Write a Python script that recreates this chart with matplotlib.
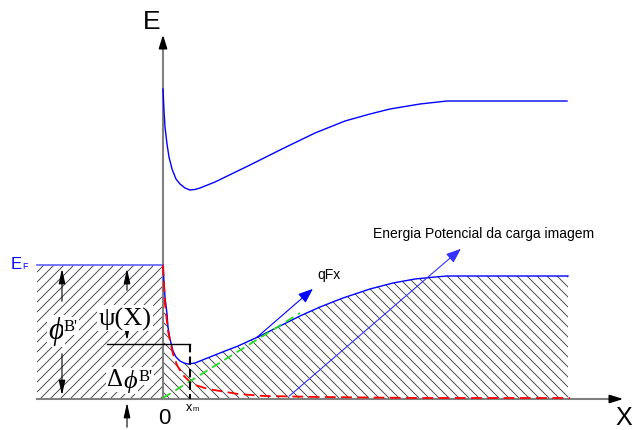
import numpy as np
import matplotlib
matplotlib.use('Agg')
import matplotlib.pyplot as plt
from matplotlib.patches import Polygon
from matplotlib.collections import LineCollection

# Curves (pixel space of the 633x431 sketch)
upper_x = [163, 164, 165, 167, 169, 172, 176, 180, 185, 190, 195, 200, 215, 250, 282, 315, 345, 370, 390, 420, 447, 567]
upper_y = [90, 112, 128, 145, 158, 170, 180, 185, 189, 191, 190.5, 189, 183, 166, 150, 134, 122, 115, 110, 105, 102, 102]

lower_x = [163, 164, 165, 167, 168, 170, 173, 176, 180, 184, 188, 195, 205, 220, 238, 260, 280, 300,
           320, 343, 370, 393, 415, 435, 447, 568]
lower_y = [266, 283, 298, 315, 328, 340, 352, 358, 362, 364, 365, 364, 360, 354, 347, 337, 327, 317,
           308, 299, 290, 284, 280, 278, 277, 277]

image_x = [163, 164, 165, 168, 173, 177, 182, 192, 208, 238, 265, 320, 420, 570]
image_y = [266, 285, 305, 332, 355, 366, 375, 385, 390, 395, 397, 398, 399, 399]

field_x = [163, 300]
field_y = [399, 314]

metal_x = [37, 163]
fermi_y = 266
base_y = 400
xm_x = 190
xm_y = 365

plt.rcParams['font.family'] = ['Liberation Sans', 'DejaVu Sans']

fig = plt.figure(figsize=(6.33, 4.31), dpi=100)
ax = fig.add_axes([0, 0, 1, 1])
ax.set_xlim(0, 633)
ax.set_ylim(431, 0)
ax.axis('off')


def hatch(verts, direction, spacing=10):
    patch = Polygon(verts, closed=True, facecolor='none', edgecolor='none')
    ax.add_patch(patch)
    segs = []
    for k in np.arange(-300, 900, spacing):
        if direction == '/':
            segs.append([(k, 500), (k + 400, 100)])
        else:
            segs.append([(k, 500), (k - 400, 100)])
    lc = LineCollection(segs, colors='#333333', linewidths=0.6)
    ax.add_collection(lc)
    lc.set_clip_path(patch)


# hatched regions
hatch([(metal_x[0], fermi_y), (metal_x[1], fermi_y), (metal_x[1], base_y), (metal_x[0], base_y)], '/')
semi = list(zip(lower_x, lower_y)) + [(lower_x[-1], base_y), (lower_x[0], base_y)]
hatch(semi, '\\')

# axes
ax.plot([37, 612], [base_y, base_y], color='#808080', lw=1.5)
ax.annotate('', xy=(626, base_y), xytext=(608, base_y),
            arrowprops=dict(arrowstyle='-|>,head_length=0.8,head_width=0.25', color='black', lw=1.2))
ax.plot([163, 163], [base_y, 48], color='#808080', lw=1.5)
ax.annotate('', xy=(163, 33), xytext=(163, 52),
            arrowprops=dict(arrowstyle='-|>,head_length=0.8,head_width=0.25', color='black', lw=1.2))

# band curves
ax.plot(upper_x, upper_y, color='#0000ff', lw=1)
ax.plot(lower_x, lower_y, color='#0000ff', lw=1)
ax.plot(metal_x, [fermi_y, fermi_y], color='#6060ff', lw=1.2)
ax.plot(image_x, image_y, color='#ff0000', lw=1.3, dashes=(6, 3))
ax.plot(field_x, field_y, color='#22dd22', lw=1.3, dashes=(5, 3))

# xm markers
ax.plot([107, xm_x], [xm_y - 20, xm_y - 20], color='black', lw=1)
ax.plot([xm_x, xm_x], [xm_y - 20, base_y], color='black', lw=1.5, dashes=(4, 2))

# blue arrows
ax.annotate('', xy=(315, 288), xytext=(255, 340),
            arrowprops=dict(arrowstyle='-|>,head_length=0.9,head_width=0.35', color='#0000ff', lw=0.8))
ax.annotate('', xy=(463, 248), xytext=(287, 399),
            arrowprops=dict(arrowstyle='-|>,head_length=0.9,head_width=0.35', color='#3333ff', lw=0.8))

# dimension arrows
dim = dict(arrowstyle='-|>,head_length=0.9,head_width=0.2', color='black', lw=0.8)
ax.annotate('', xy=(62, 267), xytext=(62, 305), arrowprops=dim)
ax.annotate('', xy=(62, 399), xytext=(62, 352), arrowprops=dim)
ax.annotate('', xy=(127, 267), xytext=(127, 294), arrowprops=dim)
ax.annotate('', xy=(127, 344), xytext=(127, 332), arrowprops=dim)
ax.annotate('', xy=(127, 401), xytext=(127, 431), arrowprops=dim)

# labels
ax.text(152, 22, 'E', fontsize=19, ha='center', va='center')
ax.text(632, 418, 'X', fontsize=18, ha='right', va='center')
ax.text(164, 419, '0', fontsize=16, ha='center', va='center')
ax.text(186, 408, 'x', fontsize=9, ha='left', va='center')
ax.text(193, 410, 'm', fontsize=5.5, ha='left', va='center')
ax.text(11, 265, 'E', fontsize=12, color='#0000ff', ha='left', va='center')
ax.text(22, 267, 'F', fontsize=6.5, color='#0000ff', ha='left', va='center')
ax.text(317, 275, 'qFx', fontsize=10, ha='left', va='center')
ax.text(373, 234, 'Energia Potencial da carga imagem', fontsize=10, ha='left', va='center')

wbox = dict(facecolor='white', edgecolor='none', pad=1)
ax.text(56, 332, '\u03d5', fontsize=22, family='Liberation Serif', style='italic',
        ha='center', va='center', bbox=wbox)
ax.text(64, 327, "B'", fontsize=12, family='Liberation Serif', ha='left', va='center', bbox=wbox)
ax.text(125, 319, '\u03c8(X)', fontsize=19, family='Liberation Serif', ha='center', va='center', bbox=wbox)
ax.text(107, 380, '\u0394', fontsize=18, family='Liberation Serif', ha='left', va='center', bbox=wbox)
ax.text(130, 382, '\u03d5', fontsize=19, family='Liberation Serif', style='italic',
        ha='center', va='center', bbox=wbox)
ax.text(139, 377, "B'", fontsize=12, family='Liberation Serif', ha='left', va='center', bbox=wbox)

fig.savefig('out.png', dpi=100)
